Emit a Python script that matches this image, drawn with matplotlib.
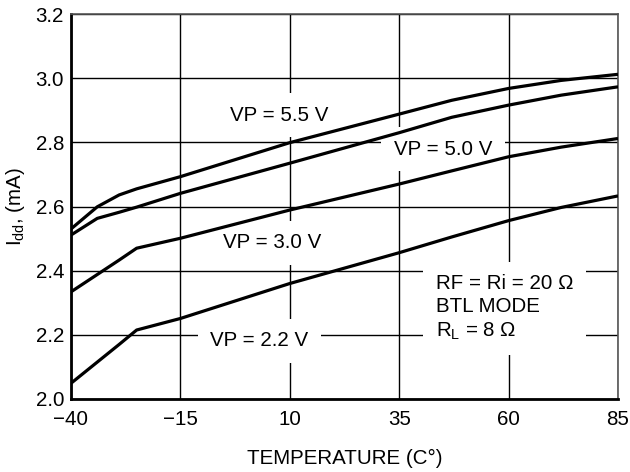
import matplotlib
matplotlib.use("Agg")
import matplotlib.pyplot as plt

plt.rcParams['font.family'] = ['Liberation Sans', 'DejaVu Sans']
plt.rcParams['mathtext.default'] = 'regular'

# temperature points (C)
temp = [-40, -34, -29, -25, -15, 10, 35, 47, 60, 72, 85]

# supply current Idd (mA) per supply voltage
idd_55 = [2.530, 2.599, 2.636, 2.655, 2.693, 2.799, 2.888, 2.931, 2.968, 2.993, 3.012]
idd_50 = [2.511, 2.563, 2.582, 2.598, 2.641, 2.735, 2.830, 2.878, 2.916, 2.947, 2.973]
idd_30 = [2.334, 2.388, 2.433, 2.470, 2.501, 2.589, 2.670, 2.711, 2.755, 2.785, 2.812]
idd_22 = [2.049, 2.115, 2.170, 2.215, 2.251, 2.360, 2.456, 2.505, 2.556, 2.597, 2.633]

xticks = [-40, -15, 10, 35, 60, 85]
yticks = [2.0, 2.2, 2.4, 2.6, 2.8, 3.0, 3.2]

fs = 14.8

fig = plt.figure(figsize=(6.3, 4.72), dpi=100)
ax = fig.add_axes([71/630, 1 - 399/472, 547/630, 385/472])

for y in (idd_55, idd_50, idd_30, idd_22):
    ax.plot(temp, y, color='black', lw=2.3, zorder=3, solid_capstyle='butt')

ax.set_xlim(-40, 85)
ax.set_ylim(2.0, 3.2)
ax.set_xticks(xticks)
ax.set_yticks(yticks)
ax.set_yticklabels(['%.1f' % v for v in yticks])
ax.tick_params(length=0, labelsize=fs)
ax.tick_params(axis='x', pad=8)
ax.tick_params(axis='y', pad=5)
ax.set_axisbelow(True)
ax.grid(True, color='black', lw=1.0)

for side in ('left', 'bottom'):
    ax.spines[side].set_linewidth(2.0)
for side in ('top', 'right'):
    ax.spines[side].set_linewidth(1.2)
    ax.spines[side].set_color('#555555')

box = dict(facecolor='white', edgecolor='none', pad=9)
ax.text(7.5, 2.885, 'VP = 5.5 V', fontsize=fs, ha='center', va='center', bbox=box, zorder=2)
ax.text(45, 2.779, 'VP = 5.0 V', fontsize=fs, ha='center', va='center', bbox=box, zorder=2)
ax.text(6, 2.487, 'VP = 3.0 V', fontsize=fs, ha='center', va='center', bbox=box, zorder=2)
ax.text(3, 2.182, 'VP = 2.2 V', fontsize=fs, ha='center', va='center', bbox=box, zorder=2)

ax.text(43.4, 2.284, 'RF = Ri = 20 Ω\nBTL MODE\nR$_L$ = 8 Ω', fontsize=fs,
        ha='left', va='center', linespacing=1.3,
        bbox=dict(facecolor='white', edgecolor='none', pad=9), zorder=2)

ax.set_xlabel('TEMPERATURE (C°)', fontsize=fs, labelpad=14)
ax.set_ylabel('I$_{dd}$, (mA)', fontsize=fs, labelpad=6)

fig.savefig('out.png', dpi=100)
